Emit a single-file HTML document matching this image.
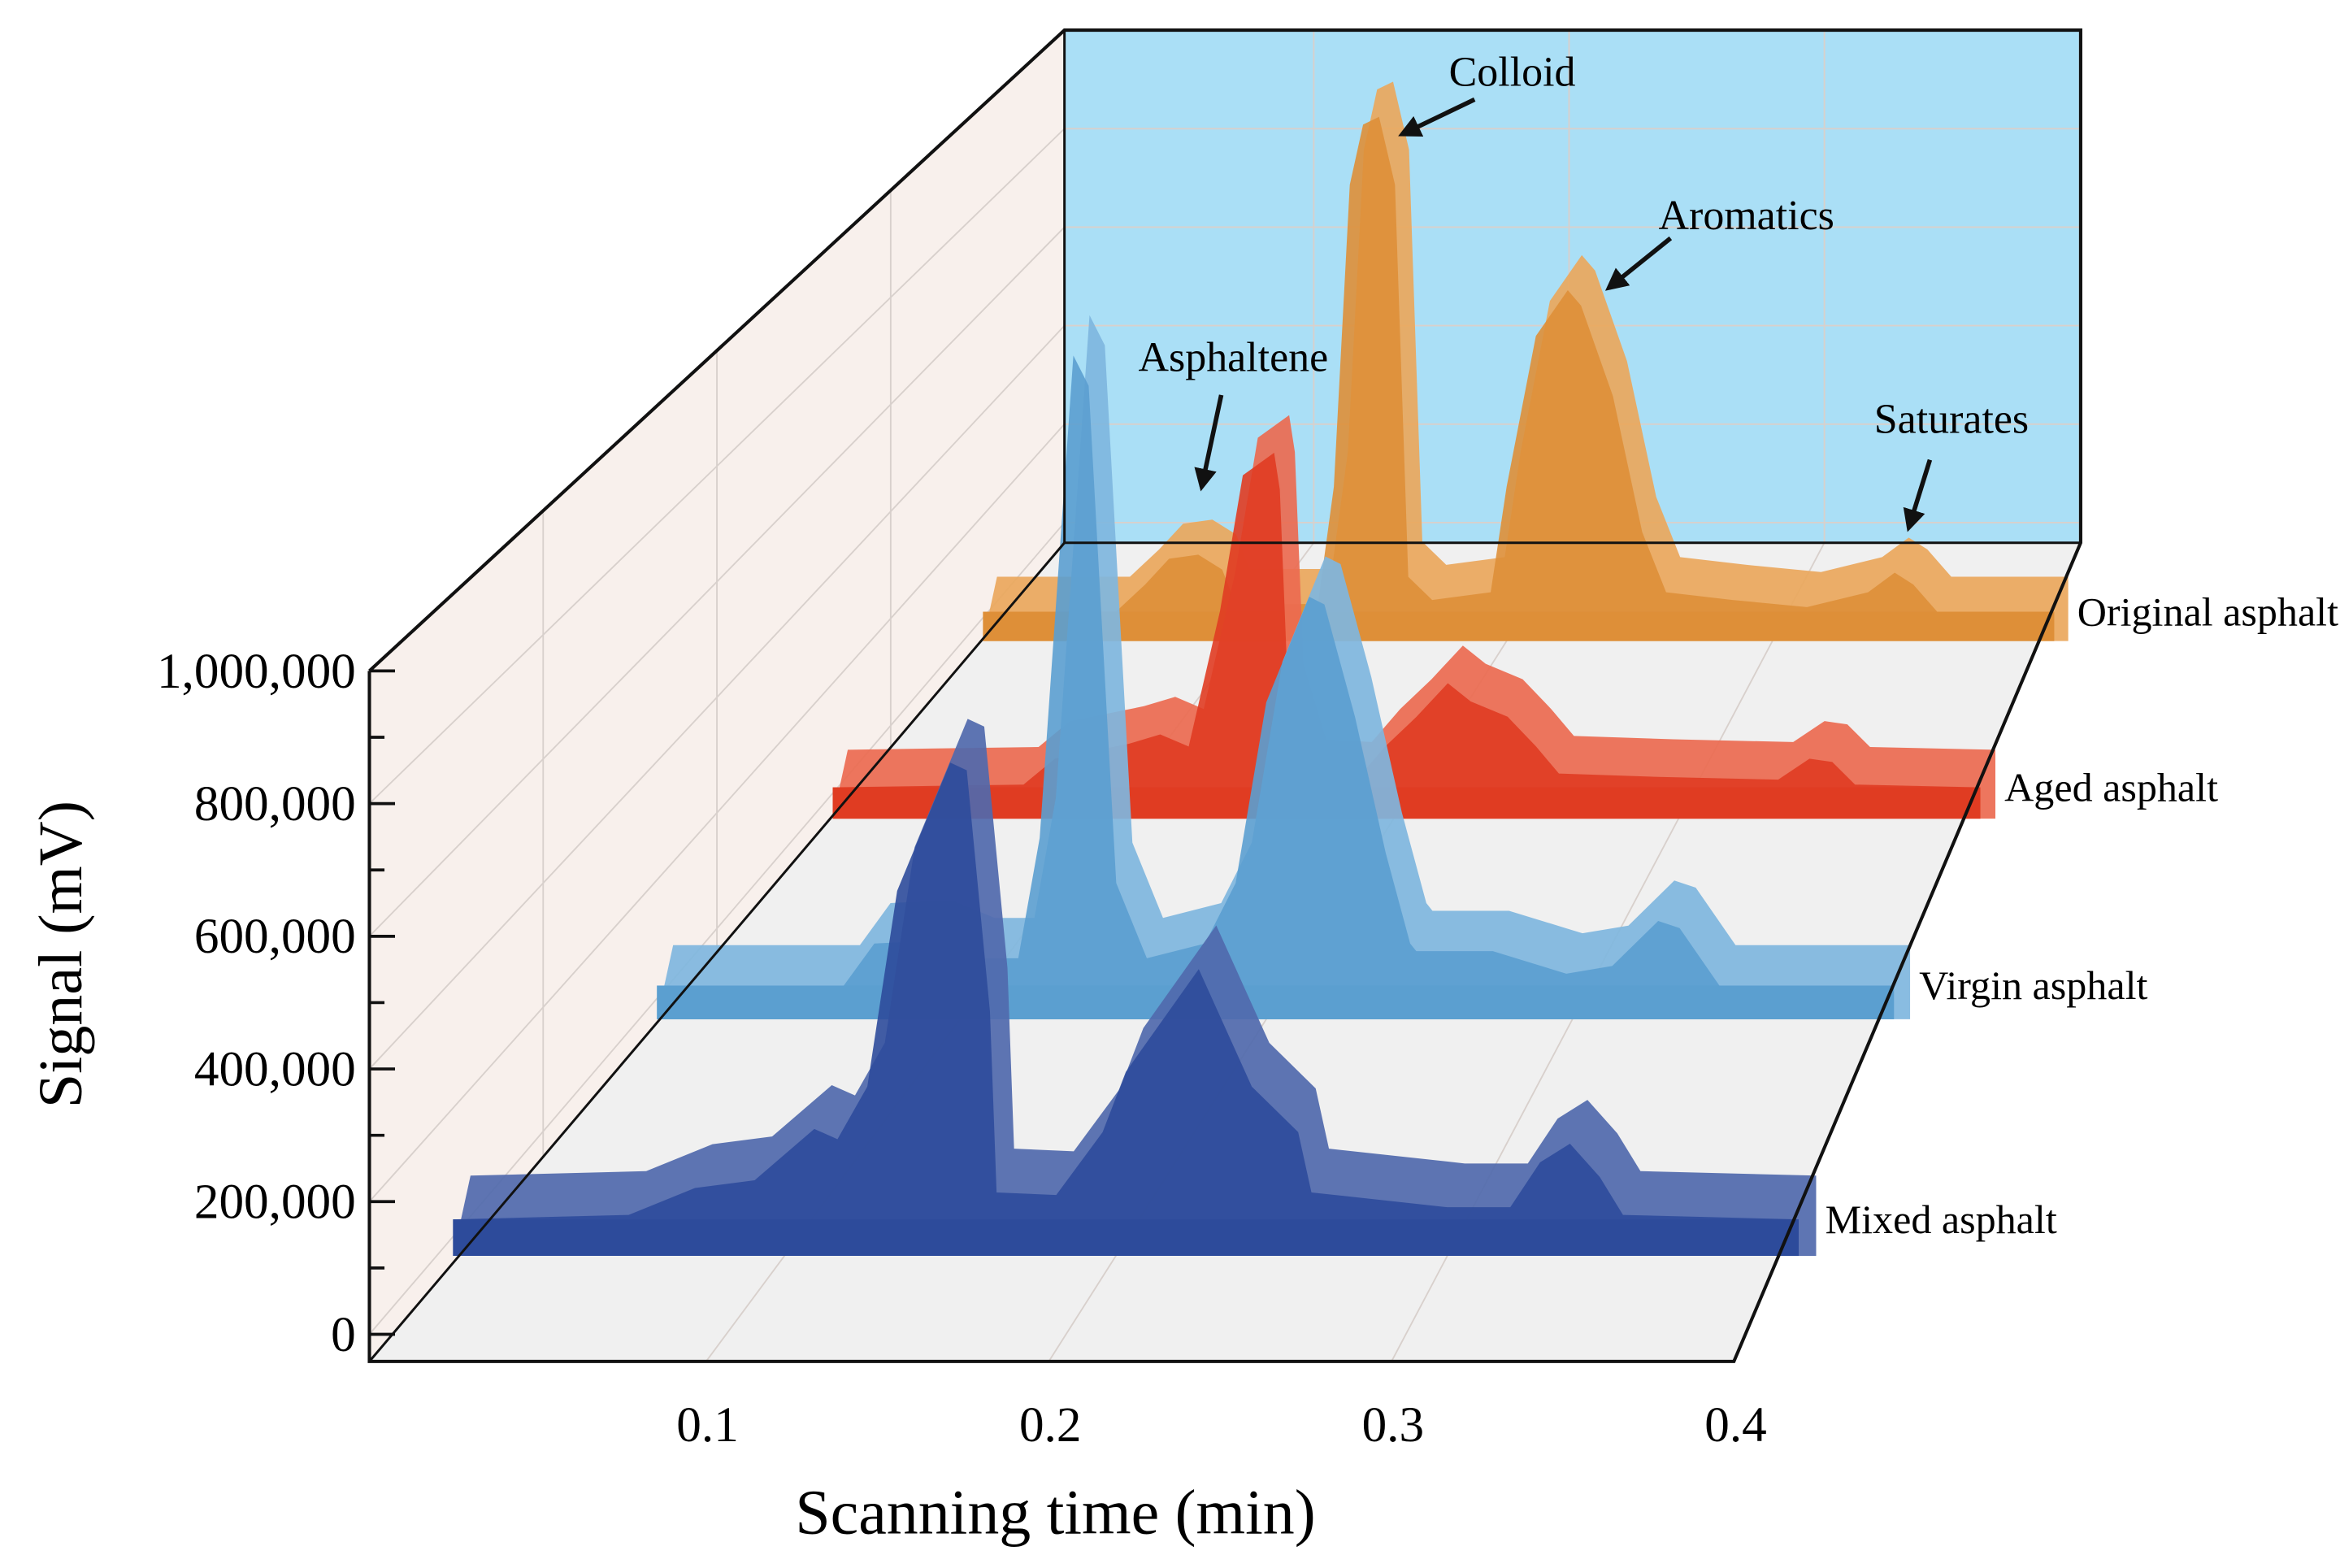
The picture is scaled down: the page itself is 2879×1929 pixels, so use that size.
<!DOCTYPE html>
<html><head><meta charset="utf-8"><style>
html,body{margin:0;padding:0;background:#fff;}
svg{display:block;font-family:"Liberation Serif",serif;}
</style></head><body>
<svg id="chart" width="2879" height="1929" viewBox="0 0 1552 1040" preserveAspectRatio="none" xmlns="http://www.w3.org/2000/svg">
<rect width="1552" height="1040" fill="#fff"/>
<polygon points="245,445 706,20 706,360 245,903" fill="#f8f0ec"/>
<polygon points="245,903 706,360 1380,360 1150,903" fill="#f0f0f0"/>
<rect x="706" y="20" width="674" height="340" fill="#aadff6"/>
<g id="grid" stroke="#d8d0cc" stroke-width="1" fill="none"></g>
<g id="series"></g>
<g stroke="#111" stroke-width="2.2" fill="none">
<polyline points="245,445 706,20 1380,20 1380,360 1150,903 245,903 245,445"/>
<line x1="245" y1="903" x2="706" y2="360" stroke-width="1.6"/>
<line x1="706" y1="20" x2="706" y2="360" stroke-width="1.6"/>
<line x1="706" y1="360" x2="1380" y2="360" stroke-width="1.6"/>
</g>
<g id="yaxis"></g>
<g id="xaxis"></g>
<text x="0" y="0" transform="translate(54,633) rotate(-90)" text-anchor="middle" font-size="41">Signal (mV)</text>
<text x="700" y="1017" text-anchor="middle" font-size="42">Scanning time (min)</text>
<g font-size="28">
<text x="961" y="57">Colloid</text>
<text x="1100" y="152">Aromatics</text>
<text x="755" y="246">Asphaltene</text>
<text x="1243" y="287">Saturates</text>
</g>
<defs><marker id="ah" viewBox="0 0 10 10" refX="8" refY="5" markerWidth="5" markerHeight="5" orient="auto"><path d="M0,0 L10,5 L0,10 z" fill="#111"/></marker></defs>
<g stroke="#111" stroke-width="3" marker-end="url(#ah)">
<line x1="978" y1="66" x2="930" y2="89"/>
<line x1="1108" y1="158" x2="1067" y2="191"/>
<line x1="810" y1="262" x2="797" y2="323"/>
<line x1="1280" y1="305" x2="1266" y2="350"/>
</g>
</svg>
<script>
const NS="http://www.w3.org/2000/svg";
const seriesNames=["Original asphalt","Aged asphalt","Virgin asphalt","Mixed asphalt"];
const origT=[0.003,0.053,0.064,0.073,0.084,0.093,0.098,0.129,0.135,0.141,0.146,0.152,0.158,0.163,0.172,0.194,0.200,0.211,0.223,0.228,0.240,0.251,0.260,0.285,0.313,0.336,0.346,0.353,0.362,0.406];
const origV=[0,0,53,103,111,82,15,15,243,830,947,962,830,68,23,38,243,536,625,595,419,155,38,23,9,38,76,53,0,0];
const agedT=[0.003,0.070,0.081,0.107,0.118,0.128,0.139,0.147,0.158,0.160,0.163,0.171,0.187,0.197,0.208,0.219,0.227,0.240,0.250,0.258,0.293,0.335,0.346,0.354,0.362,0.406];
const agedV=[0,5,52,79,96,74,320,566,607,540,156,19,14,74,128,189,156,128,74,25,19,14,52,46,5,0];
const virgT=[0.001,0.062,0.072,0.092,0.106,0.119,0.126,0.137,0.142,0.151,0.161,0.180,0.190,0.200,0.214,0.219,0.229,0.239,0.247,0.249,0.274,0.298,0.313,0.328,0.335,0.348,0.405];
const virgV=[0,0,71,76,46,46,249,1063,1012,173,46,71,173,478,656,643,453,224,71,58,58,20,33,109,97,0,0];
const mixT=[0,0.053,0.073,0.091,0.109,0.116,0.125,0.134,0.150,0.155,0.162,0.164,0.182,0.196,0.203,0.225,0.241,0.255,0.259,0.300,0.319,0.328,0.337,0.346,0.353,0.406];
const mixV=[0,7,49,61,141,125,207,512,712,700,324,42,38,136,230,390,207,136,42,19,19,89,118,66,7,0];
const seriesT=[origT,agedT,virgT,mixT];
const seriesV=[origV,agedV,virgV,mixV];
const seriesDepth=[0.88,0.663,0.418,0.129];
const frontCol=["#de8f38","#e03c22","#5b9fd0","#2d4b9b"];
const backCol=["#eaa75c","#ec6a50","#7fb6de","#5069ad"];
const yTicks=[0,200000,400000,600000,800000,1000000];
const yTickLabels=["0","200,000","400,000","600,000","800,000","1,000,000"];
const xTicks=[0.1,0.2,0.3,0.4];
const xTickLabels=["0.1","0.2","0.3","0.4"];
function el(n,a){const e=document.createElementNS(NS,n);for(const k in a)e.setAttribute(k,a[k]);return e;}
function sc(f){return 1-0.255*f;}
function xMap(t,f){return 241+461*f+sc(f)*t*2273;}
function yFront(f){return 903-543*f;}
function yVal(v){return 885-v*0.00044;}
function yBack(y){return 360-(903-y)*340/458;}
const grid=document.getElementById('grid');
yTicks.forEach(v=>{const y=yVal(v);const yb=yBack(y);
 const g=el('line',{x1:245,y1:y,x2:706,y2:yb});grid.appendChild(g);
 const g2=el('line',{x1:706,y1:yb,x2:1380,y2:yb});grid.appendChild(g2);});
xTicks.forEach(t=>{const x0=xMap(t,0),x1=xMap(t,1);const g=el('line',{x1:x0,y1:903,x2:x1,y2:360});grid.appendChild(g);
 const g2=el('line',{x1:x1,y1:20,x2:x1,y2:360});grid.appendChild(g2);});
for(let i=1;i<4;i++){const f=i/4;const x=245+461*f;const g=el('line',{x1:x,y1:445-425*f,x2:x,y2:903-543*f});grid.appendChild(g);}
const sg=document.getElementById('series');
seriesNames.forEach((name,i)=>{
 const f=seriesDepth[i],s=sc(f),T=seriesT[i],V=seriesV[i];
 const base=yFront(f);const zf=base-25*s;const dx=12*s,dy=-30*s;
 const g=el('g',{});
 let back=[],front=[];
 T.forEach((t,j)=>{const x=xMap(t,f);const h=V[j]*0.44*s;back.push([x+dx,zf+dy-h]);front.push([x,zf-h]);});
 const x0=xMap(T[0],f),x1=xMap(T[T.length-1],f);
 let bp=back.map(p=>p.join(',')).join(' ')+' '+(x1+dx)+','+base+' '+x0+','+base;
 const b=el('polygon',{points:bp,fill:backCol[i],opacity:0.92});g.appendChild(b);
 let fp=front.map(p=>p.join(',')).join(' ')+' '+x1+','+base+' '+x0+','+base;
 const fr=el('polygon',{points:fp,fill:frontCol[i],opacity:0.9});g.appendChild(fr);
 const r=el('rect',{x:x0,y:zf,width:x1-x0,height:base-zf,fill:frontCol[i]});g.appendChild(r);
 const lab=el('text',{x:x1+dx+6,y:zf+9,'font-size':27});lab.textContent=name;g.appendChild(lab);
 sg.appendChild(g);
});
const ya=document.getElementById('yaxis');
yTicks.forEach((v,i)=>{const y=yVal(v);
 const t=el('line',{x1:245,y1:y,x2:262,y2:y,stroke:'#111','stroke-width':2});ya.appendChild(t);
 if(i<yTicks.length-1){const m=yVal(v+100000);const mt=el('line',{x1:245,y1:m,x2:255,y2:m,stroke:'#111','stroke-width':2});ya.appendChild(mt);}
 const tx=el('text',{x:236,y:y+11,'text-anchor':'end','font-size':33});tx.textContent=yTickLabels[i];ya.appendChild(tx);});
const xa=document.getElementById('xaxis');
xTicks.forEach((t,i)=>{const tx=el('text',{x:xMap(t,0)+1,y:956,'text-anchor':'middle','font-size':33});tx.textContent=xTickLabels[i];xa.appendChild(tx);});
</script>
</body></html>
